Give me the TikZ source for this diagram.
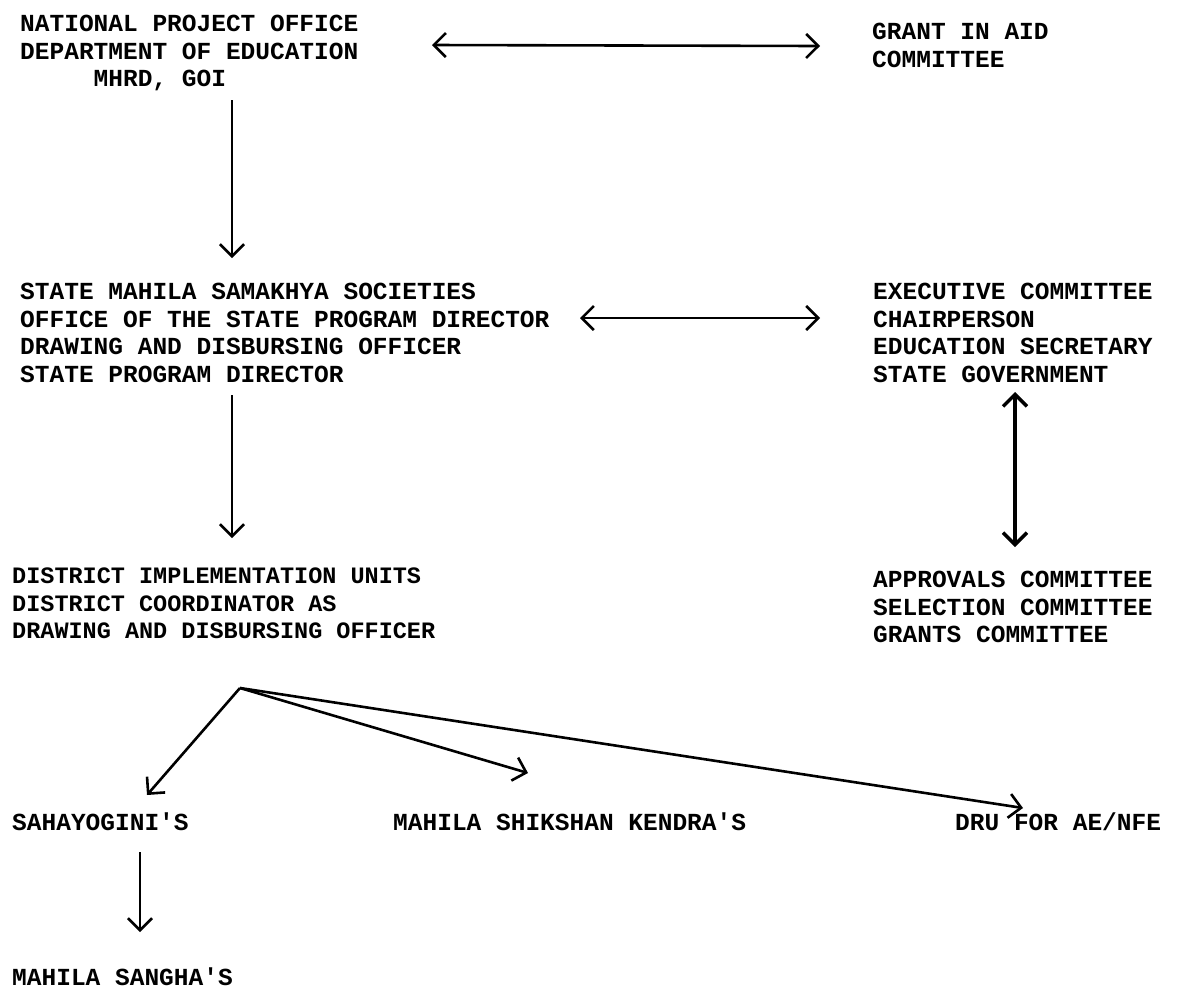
\documentclass[tikz,border=0pt]{standalone}
\usepackage{fontspec}
\newfontfamily\tw{Liberation Mono}
\usetikzlibrary{arrows.meta}
\begin{document}
\begin{tikzpicture}[x=1pt,y=-1pt,
  lbl/.style={anchor=north west,inner sep=0pt,align=left,font=\tw\bfseries\fontsize{24.5}{27.5}\selectfont},
  arr/.style={line width=2.6pt,-{Straight Barb[length=12pt,width=24pt]}},
  darr/.style={line width=2.6pt,{Straight Barb[length=12pt,width=24pt]}-{Straight Barb[length=12pt,width=24pt]}}]
\useasboundingbox[fill=white] (0,0) rectangle (1192,997);

\node[lbl] (nat) at (20,15) {NATIONAL PROJECT OFFICE\\DEPARTMENT OF EDUCATION\\\hspace*{3em}MHRD, GOI};
\node[lbl] (grant) at (872,23) {GRANT IN AID\\COMMITTEE};
\node[lbl] (state) at (20,283) {STATE MAHILA SAMAKHYA SOCIETIES\\OFFICE OF THE STATE PROGRAM DIRECTOR\\DRAWING AND DISBURSING OFFICER\\STATE PROGRAM DIRECTOR};
\node[lbl] (exec) at (873,283) {EXECUTIVE COMMITTEE\\CHAIRPERSON\\EDUCATION SECRETARY\\STATE GOVERNMENT};
\node[lbl,font=\tw\bfseries\fontsize{23.5}{27.5}\selectfont] (dist) at (12,568) {DISTRICT IMPLEMENTATION UNITS\\DISTRICT COORDINATOR AS\\DRAWING AND DISBURSING OFFICER};
\node[lbl] (appr) at (873,571) {APPROVALS COMMITTEE\\SELECTION COMMITTEE\\GRANTS COMMITTEE};
\node[lbl] (sahay) at (12,813) {SAHAYOGINI'S};
\node[lbl] (msk) at (393,813) {MAHILA SHIKSHAN KENDRA'S};
\node[lbl] (dru) at (955,813) {DRU FOR AE/NFE};
\node[lbl] (sangha) at (12,968) {MAHILA SANGHA'S};

\coordinate (natR) at (432,45);
\coordinate (grantL) at (820,46);
\coordinate (natB) at (232,100);
\coordinate (stateT) at (232,258);
\coordinate (stateR) at (580,318);
\coordinate (execL) at (820,318);
\coordinate (stateB) at (232,395);
\coordinate (distT) at (232,538);
\coordinate (execB) at (1015,392);
\coordinate (apprT) at (1015,547);
\coordinate (distB) at (240,688);
\coordinate (sahayT) at (147,795);
\coordinate (mskT) at (528,773);
\coordinate (druT) at (1023,808);
\coordinate (sahayB) at (140,852);
\coordinate (sanghaT) at (140,932);

\draw[darr] (natR) -- (grantL);
\draw[arr] (natB) -- (stateT);
\draw[darr] (stateR) -- (execL);
\draw[arr] (stateB) -- (distT);
\draw[darr,line width=3.4pt] (execB) -- (apprT);
\draw[arr] (distB) -- (sahayT);
\draw[arr] (distB) -- (mskT);
\draw[arr] (distB) -- (druT);
\draw[arr] (sahayB) -- (sanghaT);
\end{tikzpicture}
\end{document}
